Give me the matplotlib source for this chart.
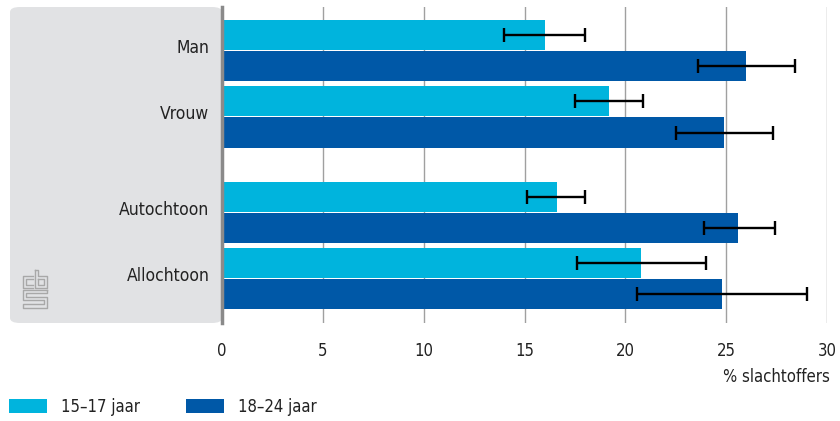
import numpy as np
import matplotlib
matplotlib.use("Agg")
import matplotlib.pyplot as plt
import matplotlib.transforms as mtransforms
from matplotlib.patches import FancyBboxPatch, Patch
from matplotlib.lines import Line2D

plt.rcParams["font.family"] = ["DejaVu Sans"]
plt.rcParams["font.stretch"] = "condensed"

# ── data ──
categories = ["Man", "Vrouw", "Autochtoon", "Allochtoon"]
series = ["15–17 jaar", "18–24 jaar"]
val_young = [16.0, 19.2, 16.6, 20.8]
low_young = [14.0, 17.5, 15.1, 17.6]
high_young = [18.0, 20.9, 18.0, 24.0]
val_old = [26.0, 24.9, 25.6, 24.8]
low_old = [23.6, 22.5, 23.9, 20.6]
high_old = [28.4, 27.3, 27.4, 29.0]
xticks = [0, 5, 10, 15, 20, 25, 30]

LIGHT = "#00b4dd"
DARK = "#0058a7"
PANEL = "#e1e2e4"
TXT = "#222222"

W, H = 840, 421
fig = plt.figure(figsize=(W / 100, H / 100), dpi=100)

# axes in pixel terms
x0, x1, ytop, ybot = 222, 827, 7, 323
ax = fig.add_axes([x0 / W, 1 - ybot / H, (x1 - x0) / W, (ybot - ytop) / H])

# grijs paneel links met labels
panel = FancyBboxPatch((10 / W, 1 - ybot / H), (x0 - 10) / W, (ybot - ytop) / H,
                       boxstyle="round,pad=0,rounding_size=0.012",
                       transform=fig.transFigure, facecolor=PANEL, edgecolor="none",
                       zorder=-5)
fig.patches.append(panel)

# posities: twee groepen met extra ruimte ertussen
pos = np.array([0, 1, 2.44, 3.44])
bh = 0.455
off = 0.235

y_young = pos - off
y_old = pos + off
err_y = [np.array(val_young) - np.array(low_young), np.array(high_young) - np.array(val_young)]
err_o = [np.array(val_old) - np.array(low_old), np.array(high_old) - np.array(val_old)]

ax.barh(y_young, val_young, height=bh, color=LIGHT, zorder=2)
ax.barh(y_old, val_old, height=bh, color=DARK, zorder=2)
ax.errorbar(val_young, y_young, xerr=err_y, fmt="none", ecolor="black",
            elinewidth=1.7, capsize=4.7, capthick=1.7, zorder=3)
ax.errorbar(val_old, y_old, xerr=err_o, fmt="none", ecolor="black",
            elinewidth=1.7, capsize=4.7, capthick=1.7, zorder=3)

ax.set_xlim(0, 30)
ax.set_ylim(4.11, -0.66)
ax.set_xticks(xticks)
ax.set_xticklabels([str(t) for t in xticks], fontsize=12, color=TXT)
ax.set_yticks(pos)
ax.set_yticklabels(categories, fontsize=12.5, color=TXT)
ax.tick_params(axis="y", length=0, pad=9)
ax.tick_params(axis="x", length=0, pad=14)

# labels iets omhoog, zoals in het origineel
shift = mtransforms.ScaledTranslation(0, 4.5 / 100, fig.dpi_scale_trans)
for lab in ax.get_yticklabels():
    lab.set_transform(lab.get_transform() + shift)

ax.grid(axis="x", color="#a0a0a0", linewidth=1.0, zorder=1)
ax.set_axisbelow(True)
for s in ["top", "right", "bottom"]:
    ax.spines[s].set_visible(False)
ax.spines["left"].set_color("#8a8a8a")
ax.spines["left"].set_linewidth(2.5)
ax.spines["left"].set_zorder(4)

fig.text(830 / W, 1 - 377 / H, "% slachtoffers", ha="right", va="center",
         fontsize=12, color=TXT)

# cbs logo (vereenvoudigd)
lc = "#a8a8a8"
lx, ly = 23, 276
segs = [
    # c
    [(lx + 10, ly), (lx, ly), (lx, ly + 12), (lx + 10, ly + 12)],
    [(lx + 10, ly + 3), (lx + 3, ly + 3), (lx + 3, ly + 9), (lx + 10, ly + 9)],
    # b
    [(lx + 12, ly - 6), (lx + 12, ly + 12), (lx + 24, ly + 12), (lx + 24, ly), (lx + 15, ly), (lx + 15, ly - 6), (lx + 12, ly - 6)],
    [(lx + 15, ly + 3), (lx + 21, ly + 3), (lx + 21, ly + 9), (lx + 15, ly + 9), (lx + 15, ly + 3)],
    # s
    [(lx + 24, ly + 14), (lx, ly + 14), (lx, ly + 24), (lx + 21, ly + 24), (lx + 21, ly + 28), (lx, ly + 28), (lx, ly + 32), (lx + 24, ly + 32), (lx + 24, ly + 21), (lx + 3, ly + 21), (lx + 3, ly + 17), (lx + 24, ly + 17), (lx + 24, ly + 14)],
]
for seg in segs:
    xs = [p[0] / W for p in seg]
    ys = [1 - p[1] / H for p in seg]
    fig.add_artist(Line2D(xs, ys, color=lc, linewidth=1.0, transform=fig.transFigure))

handles = [Patch(facecolor=LIGHT, edgecolor="none"), Patch(facecolor=DARK, edgecolor="none")]
fig.legend(handles, series, loc="center left", bbox_to_anchor=(9 / W, 1 - 407 / H),
           ncol=2, frameon=False, fontsize=12, handlelength=2.3, handleheight=0.9,
           handletextpad=0.85, columnspacing=2.7, borderpad=0, borderaxespad=0,
           labelcolor=TXT)

fig.savefig("out.png", dpi=100)
